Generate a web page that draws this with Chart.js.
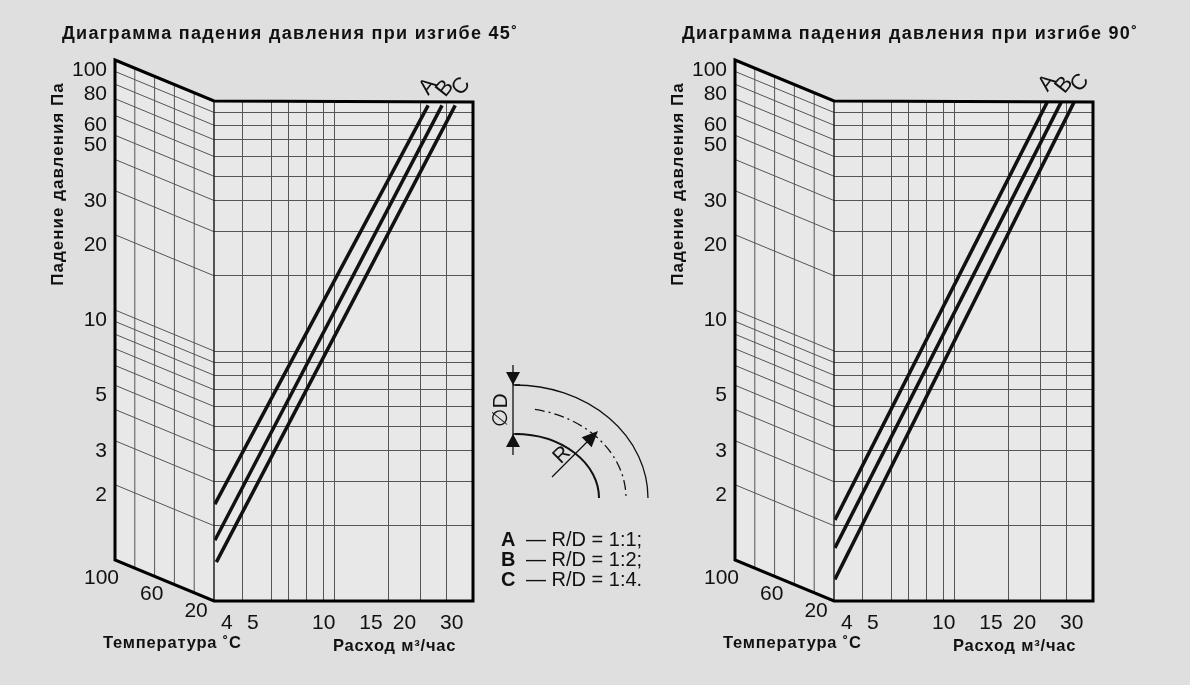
<!DOCTYPE html>
<html><head><meta charset="utf-8">
<script src="https://cdn.jsdelivr.net/npm/chart.js@4"></script>
<style>
html,body{margin:0;padding:0;background:#dfdfdf;width:1190px;height:685px;overflow:hidden}
canvas{position:absolute;top:0}
#c1{left:0}#c2{left:620px}
</style></head><body>
<canvas id="c1" width="1190" height="685"></canvas>
<canvas id="c2" width="570" height="685"></canvas>
<script>
// ---- data ----
const flowLabels = [4, 5, 10, 15, 20, 30];
const flowGrid = [5, 6.4, 7.4, 8.6, 10, 11, 17.4, 23, 28.6];
const pressureGrid = [2, 3, 4, 5, 6, 7, 8, 9, 10, 20, 30, 40, 50, 60, 70, 80, 90];
const pressureLabels = [100, 80, 60, 50, 30, 20, 10, 5, 3, 2];
const tempLines = [80, 60, 40, 20];
const tempLabels = [100, 60, 20];
const seriesNames = ['A', 'B', 'C'];
// 45° bend
const flowA45 = [3.93, 24.5], dropA45 = [2.44, 96];
const flowB45 = [3.93, 27.6], dropB45 = [1.75, 96];
const flowC45 = [3.98, 30.9], dropC45 = [1.43, 96];
// 90° bend
const flowA90 = [3.93, 24.3], dropA90 = [2.11, 99];
const flowB90 = [3.93, 27.4], dropB90 = [1.63, 99];
const flowC90 = [3.93, 30.6], dropC90 = [1.22, 99];
const legendRatios = ['1:1;', '1:2;', '1:4.'];

const FONT = "'Liberation Sans', Arial, sans-serif";

function pts(fx, fy) { return fx.map((x, i) => ({x, y: fy[i]})); }

function makeChart(id, title, flows, drops, padRight, drawExtra) {
  const shift = 41;
  const plugin = {
    id: 'nomo',
    beforeDraw(chart) {
      const ctx = chart.ctx;
      const {left, top, right, bottom} = chart.chartArea;
      const Lx = left - 99;
      ctx.save(); ctx.fillStyle = '#e8e8e8';
      ctx.beginPath();
      ctx.moveTo(Lx, top - shift); ctx.lineTo(left, top); ctx.lineTo(right, top + 1);
      ctx.lineTo(right, bottom); ctx.lineTo(left, bottom); ctx.lineTo(Lx, bottom - shift);
      ctx.closePath(); ctx.fill(); ctx.restore();
    },
    afterDraw(chart) {
      const ctx = chart.ctx;
      const {left, top, right, bottom} = chart.chartArea;
      const ys = chart.scales.y, xs = chart.scales.x;
      const Lx = left - 99;
      ctx.save();
      ctx.strokeStyle = '#555'; ctx.lineWidth = 1;
      pressureGrid.forEach(v => {
        const yp = ys.getPixelForValue(v);
        ctx.beginPath(); ctx.moveTo(Lx, yp - shift); ctx.lineTo(left, yp); ctx.stroke();
      });
      tempLines.forEach(T => {
        const x = Lx + (100 - T) / 100 * (left - Lx);
        const d = (x - Lx) / (left - Lx) * shift;
        ctx.beginPath(); ctx.moveTo(x, top - shift + d); ctx.lineTo(x, bottom - shift + d); ctx.stroke();
      });
      ctx.strokeStyle = '#222'; ctx.lineWidth = 1.5;
      ctx.beginPath(); ctx.moveTo(left, top); ctx.lineTo(left, bottom); ctx.stroke();
      ctx.strokeStyle = '#000'; ctx.lineWidth = 3; ctx.lineJoin = 'miter';
      ctx.beginPath();
      ctx.moveTo(Lx, top - shift); ctx.lineTo(left, top); ctx.lineTo(right, top + 1);
      ctx.lineTo(right, bottom); ctx.lineTo(left, bottom); ctx.lineTo(Lx, bottom - shift);
      ctx.closePath(); ctx.stroke();
      // texts
      ctx.fillStyle = '#111';
      ctx.font = 'bold 18px ' + FONT; ctx.textBaseline = 'alphabetic'; ctx.textAlign = 'left';
      ctx.letterSpacing = '1.3px';
      ctx.fillText(title, Lx - 53, 39);
      ctx.font = 'bold 17px ' + FONT; ctx.letterSpacing = '1px';
      ctx.save(); ctx.translate(Lx - 52, 184); ctx.rotate(-Math.PI / 2);
      ctx.textAlign = 'center'; ctx.fillText('Падение давления Па', 0, 0); ctx.restore();
      ctx.font = 'bold 16.5px ' + FONT; ctx.letterSpacing = '0.8px';
      ctx.fillText('Температура ˚C', Lx - 12, 648);
      ctx.fillText('Расход м³/час', left + 119, 651);
      ctx.letterSpacing = '0px';
      ctx.font = '21px ' + FONT; ctx.textBaseline = 'middle'; ctx.textAlign = 'right';
      pressureLabels.forEach(v => ctx.fillText(String(v), Lx - 8, ys.getPixelForValue(v) - shift + 10));
      tempLabels.forEach(T => {
        const x = Lx + (100 - T) / 100 * (left - Lx);
        const d = (x - Lx) / (left - Lx) * shift;
        ctx.fillText(String(T), x + 4 + (100 - T) * 0.12, bottom - shift + d + 18);
      });
      ctx.textAlign = 'center';
      flowLabels.forEach(v => {
        let x = xs.getPixelForValue(v);
        if (v < 10) x += 10;
        ctx.fillText(String(v), x, bottom + 22);
      });
      ctx.font = '22px ' + FONT;
      chart.data.datasets.forEach((ds, i) => {
        const p = ds.data[1];
        const x = xs.getPixelForValue(p.x), y = ys.getPixelForValue(p.y);
        ctx.save(); ctx.translate(x + i * 3, y - 19 + (i === 1 ? 2 : 0)); ctx.rotate(-0.9);
        ctx.fillText(ds.label, 0, 0); ctx.restore();
      });
      ctx.restore();
      if (drawExtra) drawExtra(ctx);
    }
  };
  return new Chart(document.getElementById(id), {
    type: 'scatter',
    data: {
      datasets: seriesNames.map((n, i) => ({
        label: n, data: pts(flows[i], drops[i]), showLine: true,
        borderColor: '#111', borderWidth: 3.5, pointRadius: 0, tension: 0
      }))
    },
    options: {
      responsive: false, animation: false, devicePixelRatio: 1,
      layout: {padding: {left: 214, top: 101, right: padRight, bottom: 84}},
      plugins: {legend: {display: false}, tooltip: {enabled: false}},
      scales: {
        x: {type: 'logarithmic', min: 3.9, max: 36,
            afterBuildTicks: s => { s.ticks = flowGrid.map(v => ({value: v})); },
            ticks: {display: false}, border: {display: false},
            grid: {color: '#555', lineWidth: 1, drawTicks: false}},
        y: {type: 'logarithmic', min: 1, max: 100,
            afterBuildTicks: s => { s.ticks = pressureGrid.map(v => ({value: v})); },
            ticks: {display: false}, border: {display: false},
            grid: {color: '#555', lineWidth: 1, drawTicks: false}}
      }
    },
    plugins: [plugin]
  });
}

function drawBend(ctx) {
  ctx.save();
  ctx.strokeStyle = '#111'; ctx.fillStyle = '#111'; ctx.lineWidth = 1.3;
  const cx = 515, cy = 498;
  function arc(rx, ry, a0) { ctx.beginPath(); ctx.ellipse(cx, cy, rx, ry, 0, -Math.PI / 2 + a0, 0); ctx.stroke(); }
  arc(133, 113, 0);
  ctx.lineWidth = 2; arc(84, 64, 0);
  ctx.lineWidth = 1.3; ctx.setLineDash([10, 4, 2, 4]); arc(111, 90, 0.18); ctx.setLineDash([]);
  ctx.beginPath(); ctx.moveTo(513, 365); ctx.lineTo(513, 455); ctx.stroke();
  ctx.beginPath(); ctx.moveTo(513, 385); ctx.lineTo(520, 385); ctx.moveTo(513, 434); ctx.lineTo(520, 434); ctx.stroke();
  function tri(x, y, dir) { ctx.beginPath(); ctx.moveTo(x, y); ctx.lineTo(x - 7, y - 13 * dir); ctx.lineTo(x + 7, y - 13 * dir); ctx.closePath(); ctx.fill(); }
  tri(513, 385, 1); tri(513, 434, -1);
  ctx.beginPath(); ctx.moveTo(552, 477); ctx.lineTo(592, 437); ctx.stroke();
  ctx.save(); ctx.translate(598, 431); ctx.rotate(-Math.PI / 4);
  ctx.beginPath(); ctx.moveTo(0, 0); ctx.lineTo(-16, -7); ctx.lineTo(-16, 7); ctx.closePath(); ctx.fill(); ctx.restore();
  ctx.font = '21px ' + FONT; ctx.textAlign = 'center'; ctx.textBaseline = 'middle';
  ctx.save(); ctx.translate(562, 455); ctx.rotate(-Math.PI / 4); ctx.fillText('R', 0, 0); ctx.restore();
  ctx.save(); ctx.translate(501, 410); ctx.rotate(-Math.PI / 2); ctx.fillText('∅D', 0, 0); ctx.restore();
  ctx.textAlign = 'left'; ctx.textBaseline = 'middle';
  seriesNames.forEach((n, i) => {
    const y = 540 + i * 20;
    ctx.font = 'bold 20px ' + FONT; ctx.fillText(n, 501, y);
    ctx.font = '20px ' + FONT; ctx.fillText('— R/D = ' + legendRatios[i], 526, y);
  });
  ctx.restore();
}

makeChart('c1', 'Диаграмма падения давления при изгибе 45˚',
  [flowA45, flowB45, flowC45], [dropA45, dropB45, dropC45], 1190 - 473, drawBend);
makeChart('c2', 'Диаграмма падения давления при изгибе 90˚',
  [flowA90, flowB90, flowC90], [dropA90, dropB90, dropC90], 570 - 473, null);
</script></body></html>
